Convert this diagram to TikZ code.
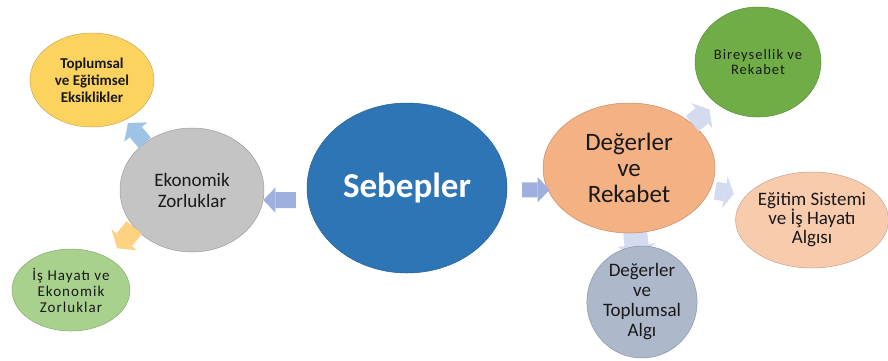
\documentclass[tikz,border=0pt]{standalone}
\usepackage{fontspec}
\setmainfont{Carlito}
\newfontfamily\spacedfont[LetterSpace=7]{Carlito}
\usepackage{xcolor}
\definecolor{sebblue}{RGB}{46,117,182}
\definecolor{ekogray}{RGB}{196,196,196}
\definecolor{topyellow}{RGB}{252,211,95}
\definecolor{isgreen}{RGB}{169,209,142}
\definecolor{degorange}{RGB}{244,177,131}
\definecolor{birgreen}{RGB}{112,173,71}
\definecolor{egtpeach}{RGB}{248,203,173}
\definecolor{algblue}{RGB}{173,185,202}
\definecolor{arrlav}{RGB}{160,176,222}
\definecolor{arrsky}{RGB}{157,195,230}
\definecolor{arrgold}{RGB}{255,210,130}
\definecolor{arrpale}{RGB}{212,218,240}
\usetikzlibrary{shapes.geometric,arrows.meta,backgrounds}
\tikzset{
  bubble/.style={ellipse,draw=#1!80!black,fill=#1,line width=0.5pt,
    inner sep=0pt,align=center,text=black!90},
  blk/.style={draw=#1,line width=15pt,
    -{Triangle[width=25pt,length=12pt,line width=0pt,fill=#1]}},
}
\newcommand{\fs}[2]{\fontsize{#1}{#2}\selectfont}

\begin{document}
\begin{tikzpicture}[x=1pt,y=-1pt]
  \useasboundingbox (0,0) rectangle (888,360);
  % ellipses
  \node[bubble=sebblue,minimum width=200,minimum height=170,text=white,
    font=\fs{35}{40}\bfseries] (sebep) at (407,188) {Sebepler};
  \node[bubble=ekogray,minimum width=144,minimum height=124,
    font=\fs{19}{21}] (ekon) at (192,190) {Ekonomik\\Zorluklar};
  \node[bubble=topyellow,minimum width=124,minimum height=94,
    font=\fs{15}{17}\bfseries] (toplu) at (92,80) {Toplumsal\\ve Eğitimsel\\Eksiklikler};
  \node[bubble=isgreen,minimum width=118,minimum height=82,
    font=\spacedfont\fs{15}{16}] (ishay) at (71,290) {İş Hayatı ve\\Ekonomik\\Zorluklar};
  \node[bubble=degorange,minimum width=172,minimum height=130,
    font=\fs{25}{26}] (deger) at (629,168) {Değerler\\ve\\Rekabet};
  \node[bubble=birgreen,minimum width=126,minimum height=110,
    font=\spacedfont\fs{14.5}{15}] (birey) at (758,62) {Bireysellik ve\\Rekabet};
  \node[bubble=egtpeach,minimum width=150,minimum height=96,
    font=\fs{19}{19}] (egitim) at (812,220) {Eğitim Sistemi\\ve İş Hayatı\\Algısı};
  \node[bubble=algblue,minimum width=100,minimum height=112,
    font=\fs{19}{20}] (algi) at (642,302) {Değerler\\ve\\Toplumsal\\Algı};
  % block arrows
  \draw[blk=arrlav,line width=16pt,shorten <=12pt] (sebep.187) -- (ekon.-8);
  \draw[blk=arrlav,shorten <=15pt,shorten >=-2pt] (sebep.-1) -- (deger.195);
  \draw[blk=arrsky,line width=16pt,
    -{Triangle[width=30pt,length=12pt,line width=0pt,fill=arrsky]},
    shorten >=4pt] (ekon.135) -- (toplu.-50);
  \draw[blk=arrgold,line width=20pt,
    -{Triangle[width=33pt,length=11pt,line width=0pt,fill=arrgold]},
    shorten >=13pt] (ekon.213) -- (ishay.40);
  \draw[blk=arrpale,line width=20pt,
    -{Triangle[width=33pt,length=10pt,line width=0pt,fill=arrpale]},
    shorten >=9pt] (deger.35) -- (birey.225);
  \draw[blk=arrpale,line width=18pt,
    -{Triangle[width=32pt,length=9pt,line width=0pt,fill=arrpale]},
    shorten <=5pt,shorten >=12pt] (deger.-15) -- (egitim.160);
  \begin{scope}[on background layer]
    \draw[blk=arrpale,line width=24pt,
      -{Triangle[width=38pt,length=14pt,line width=0pt,fill=arrpale]},
      shorten <=-8pt,shorten >=-13pt] (deger) -- (algi);
  \end{scope}
\end{tikzpicture}
\end{document}
